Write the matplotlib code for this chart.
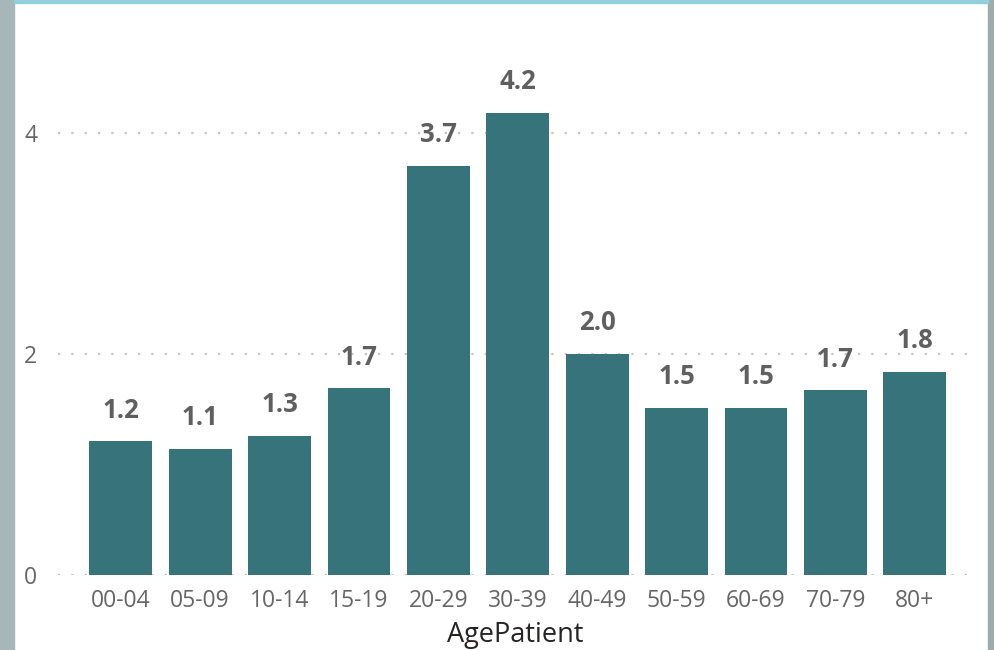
import matplotlib.pyplot as plt
from matplotlib.patches import Rectangle
import numpy as np

plt.rcParams['font.family'] = ['Open Sans', 'DejaVu Sans']

# 数据
age_groups = ['00-04', '05-09', '10-14', '15-19', '20-29', '30-39',
              '40-49', '50-59', '60-69', '70-79', '80+']
values = [1.21, 1.14, 1.26, 1.69, 3.70, 4.18, 2.00, 1.51, 1.51, 1.67, 1.84]
y_ticks = [0, 2, 4]

W, H = 995, 650
fig = plt.figure(figsize=(W / 100, H / 100), dpi=100)
fig.patch.set_facecolor('white')

# 边框装饰
fig.patches.append(Rectangle((0, 0), 14 / W, 1, transform=fig.transFigure,
                             color='#a6b6b9', zorder=0))
fig.patches.append(Rectangle((988 / W, 0), 7 / W, 1, transform=fig.transFigure,
                             color='#9eacae', zorder=0))
fig.patches.append(Rectangle((14 / W, 1 - 3 / H), 974 / W, 3 / H,
                             transform=fig.transFigure, color='#93cfda', zorder=0))

ax = fig.add_axes([58 / W, 1 - 575 / H, 914 / W, 508.3 / H])
ax.set_facecolor('none')

x = np.arange(len(age_groups))
bars = ax.bar(x, values, width=0.79, color='#37737a', zorder=2)

for xi, v in zip(x, values):
    ax.text(xi, v + 0.16, f"{v:.1f}", ha='center', va='bottom',
            fontsize=18.5, fontweight='bold', color='#5f5f5f')

ax.set_xlim(-0.79, 10.72)
ax.set_ylim(0, 4.6)
ax.set_yticks(y_ticks)
ax.set_xticks(x)
ax.set_xticklabels(age_groups)
ax.tick_params(axis='both', length=0, labelsize=16.5, labelcolor='#666666')
ax.tick_params(axis='y', pad=15)
ax.tick_params(axis='x', pad=10)

for yt in y_ticks:
    ax.axhline(yt, color='#c4c4c4', linestyle=(0, (1, 5)), linewidth=1.6, zorder=1)

for s in ax.spines.values():
    s.set_visible(False)

ax.set_xlabel('AgePatient', fontsize=19.5, color='#252423', labelpad=6)

plt.savefig('out.png', dpi=100)
